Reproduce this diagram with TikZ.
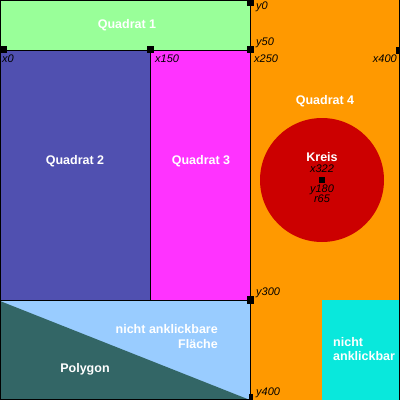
\documentclass[tikz,border=0pt]{standalone}
\usepackage{fontspec}
\setmainfont{Liberation Sans}
\definecolor{qone}{HTML}{99FF99}
\definecolor{qtwo}{HTML}{5050B0}
\definecolor{qthree}{HTML}{FF33FF}
\definecolor{qfour}{HTML}{FF9900}
\definecolor{kreisred}{HTML}{CC0000}
\definecolor{lightbl}{HTML}{99CCFF}
\definecolor{polyc}{HTML}{336666}
\definecolor{cyanc}{HTML}{09E8DC}
\tikzset{
  biglabel/.style={text=white,font=\bfseries\fontsize{12.5}{14}\selectfont,inner sep=0pt},
  coordlabel/.style={text=black,font=\itshape\fontsize{11}{12}\selectfont,inner sep=0pt},
  marker/.style={fill=black},
  border/.style={draw=black,line width=1pt}
}
\begin{document}
\begin{tikzpicture}[x=1pt,y=-1pt]
\useasboundingbox (0,0) rectangle (400,400);
% areas
\fill[qfour] (250,0) rectangle (400,400);
\fill[qone] (0,0) rectangle (250,50);
\fill[qtwo] (0,50) rectangle (150,300);
\fill[qthree] (150,50) rectangle (250,300);
\fill[lightbl] (0,300) rectangle (250,400);
\fill[polyc] (0,301) -- (250,400) -- (0,400) -- cycle;
\fill[cyanc] (322,300) rectangle (400,400);
\fill[kreisred] (322,180) circle[radius=62];
% lines
\draw[border] (0,0.5) -- (250,0.5);
\draw[border] (0.5,0) -- (0.5,400);
\draw[border] (0,50.5) -- (250,50.5);
\draw[border] (150.5,50) -- (150.5,300);
\draw[border] (0,300.5) -- (250,300.5);
\draw[border] (250.5,0) -- (250.5,400);
\draw[border] (0,399.5) -- (250,399.5);
\draw[border] (399.5,0) -- (399.5,400);
% markers
\fill[marker] (0,46) rectangle (7,53);
\fill[marker] (147,46) rectangle (154,53);
\fill[marker] (247,46) rectangle (254,53);
\fill[marker] (247,0) rectangle (254,6);
\fill[marker] (396,47) rectangle (400,54);
\fill[marker] (247,296) rectangle (254,304);
\fill[marker] (249,394) rectangle (253,400);
\fill[marker] (319,177) rectangle (325,183);
% big labels
\node[biglabel] (q1) at (127,25) {Quadrat 1};
\node[biglabel] (q2) at (75,161) {Quadrat 2};
\node[biglabel] (q3) at (201,161) {Quadrat 3};
\node[biglabel] (q4) at (325,101) {Quadrat 4};
\node[biglabel] (kreis) at (322,157) {Kreis};
\node[biglabel,anchor=east] (nak1) at (218,329) {nicht anklickbare};
\node[biglabel,anchor=east] (nak2) at (218,344) {Fläche};
\node[biglabel] (poly) at (85,369) {Polygon};
\node[biglabel,anchor=west] (na1) at (333,342) {nicht};
\node[biglabel,anchor=west] (na2) at (333,356) {anklickbar};
% coordinate labels
\node[coordlabel,anchor=west] (ly0) at (256,7) {y0};
\node[coordlabel,anchor=west] (ly50) at (256,43) {y50};
\node[coordlabel,anchor=west] (lx0) at (2,59) {x0};
\node[coordlabel,anchor=west] (lx150) at (155,59) {x150};
\node[coordlabel,anchor=west] (lx250) at (254,59) {x250};
\node[coordlabel,anchor=east] (lx400) at (397,59) {x400};
\node[coordlabel,anchor=west] (ly300) at (256,293) {y300};
\node[coordlabel,anchor=west] (ly400) at (256,393) {y400};
\node[coordlabel] (kx) at (322,169) {x322};
\node[coordlabel] (ky) at (322,190) {y180};
\node[coordlabel] (kr) at (322,199) {r65};
\end{tikzpicture}
\end{document}
